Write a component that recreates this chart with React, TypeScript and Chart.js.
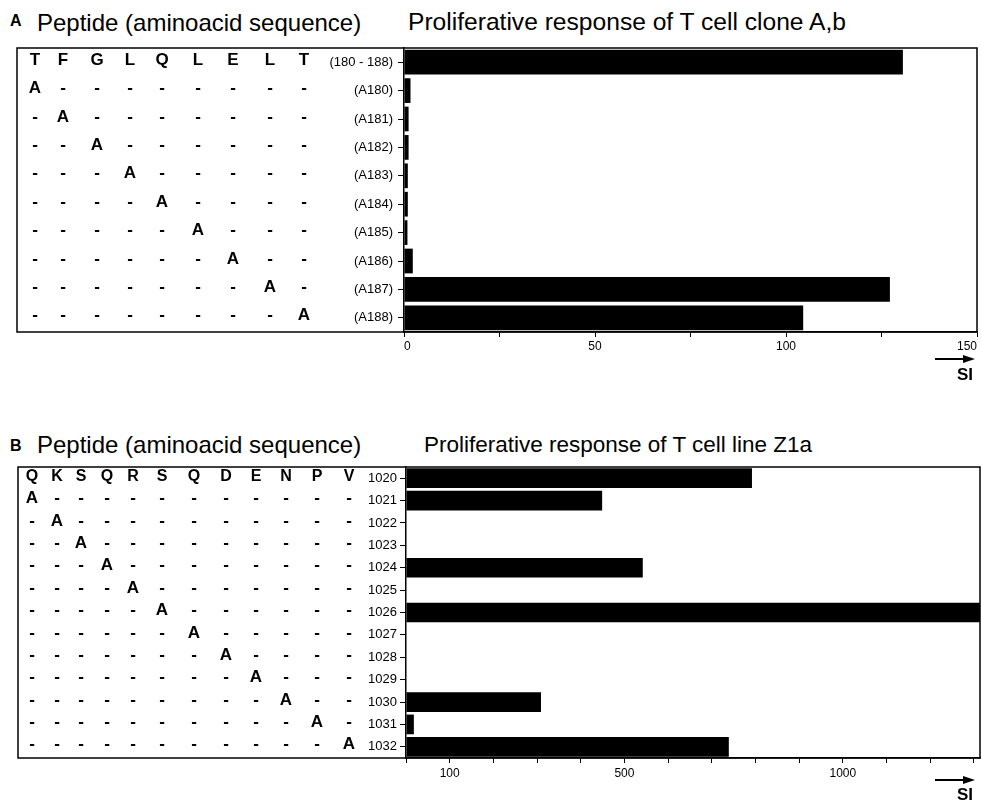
import React, { useEffect, useRef } from "react";
import { Chart, registerables } from "chart.js";

Chart.register(...registerables);

const FONT = '"Liberation Sans", Arial, Helvetica, sans-serif';

// ---------- Panel A data ----------
const seqA = ["T", "F", "G", "L", "Q", "L", "E", "L", "T"];
const codesA = ["(180 - 188)", "(A180)", "(A181)", "(A182)", "(A183)", "(A184)", "(A185)", "(A186)", "(A187)", "(A188)"];
const siA = [130.6, 1.7, 1.2, 1.2, 1.0, 1.0, 0.9, 2.3, 127.2, 104.5];
const tickLabelsA = [0, 50, 100, 150];

// ---------- Panel B data ----------
const seqB = ["Q", "K", "S", "Q", "R", "S", "Q", "D", "E", "N", "P", "V"];
const codesB = ["1020", "1021", "1022", "1023", "1024", "1025", "1026", "1027", "1028", "1029", "1030", "1031", "1032"];
const siB = [792, 449, 0, 0, 542, 0, 1320, 0, 0, 0, 309, 18, 739];
const tickLabelsB = [100, 500, 1000];

type PanelCfg = {
  top: number;
  height: number;
  plotTop: number;
  plotBottom: number;
  plotLeft: number;
  plotRight: number;
  boxLeft: number;
  codes: string[];
  values: number[];
  seq: string[];
  cols: number[];
  max: number;
  step: number;
  tickLabels: number[];
  barPct: number;
  headerFont: string;
  letterFont: string;
  yTickLen: number;
  yTickPad: number;
  xTickPad: number;
  xAlign: string;
};

const panelA: PanelCfg = {
  top: 40,
  height: 330,
  plotTop: 48,
  plotBottom: 332,
  plotLeft: 404,
  plotRight: 977,
  boxLeft: 17,
  codes: codesA,
  values: siA,
  seq: seqA,
  cols: [35, 63, 97, 130, 162, 198, 233, 270, 304],
  max: 150,
  step: 25,
  tickLabels: tickLabelsA,
  barPct: 0.87,
  headerFont: `bold 17px ${FONT}`,
  letterFont: `bold 17px ${FONT}`,
  yTickLen: 6,
  yTickPad: 5,
  xTickPad: 2,
  xAlign: "inner",
};

const panelB: PanelCfg = {
  top: 460,
  height: 340,
  plotTop: 467,
  plotBottom: 758,
  plotLeft: 406,
  plotRight: 980,
  boxLeft: 18,
  codes: codesB,
  values: siB,
  seq: seqB,
  cols: [32, 57, 81, 107, 133, 162, 194, 226, 256, 286, 317, 349],
  max: 1314,
  step: 100,
  tickLabels: tickLabelsB,
  barPct: 0.88,
  headerFont: `bold 16px ${FONT}`,
  letterFont: `bold 17px ${FONT}`,
  yTickLen: 6,
  yTickPad: 3,
  xTickPad: 3,
  xAlign: "center",
};

function Panel({ cfg }: { cfg: PanelCfg }) {
  const ref = useRef<HTMLCanvasElement | null>(null);
  useEffect(() => {
    if (!ref.current) return;
    const rows: string[][] = [cfg.seq.slice()];
    for (let i = 0; i < cfg.seq.length; i++) {
      rows.push(cfg.seq.map((_, j) => (j === i ? "A" : "-")));
    }
    const peptidePlugin = {
      id: "peptideTable",
      afterDraw(chart: any) {
        const { ctx, chartArea, scales } = chart;
        const y = scales.y;
        ctx.save();
        ctx.strokeStyle = "#000";
        ctx.lineWidth = 1.5;
        ctx.strokeRect(cfg.boxLeft, chartArea.top, chartArea.right - cfg.boxLeft, chartArea.bottom - chartArea.top);
        ctx.textAlign = "center";
        ctx.textBaseline = "middle";
        ctx.fillStyle = "#000";
        rows.forEach((row, i) => {
          const yy = y.getPixelForValue(i) - 2;
          row.forEach((ch, j) => {
            ctx.font = i === 0 ? cfg.headerFont : cfg.letterFont;
            ctx.fillText(ch, cfg.cols[j], yy);
          });
        });
        ctx.restore();
      },
    };
    const width = 982;
    const chart = new Chart(ref.current, {
      type: "bar",
      data: {
        labels: cfg.codes,
        datasets: [
          {
            data: cfg.values,
            backgroundColor: "#000",
            borderWidth: 0,
            barPercentage: cfg.barPct,
            categoryPercentage: 1,
          },
        ],
      },
      options: {
        indexAxis: "y",
        responsive: false,
        animation: false,
        events: [],
        layout: {
          padding: {
            top: cfg.plotTop - cfg.top,
            left: 0,
            right: width - cfg.plotRight,
            bottom: cfg.height - (cfg.plotBottom - cfg.top) - 30,
          },
        },
        plugins: {
          legend: { display: false },
          tooltip: { enabled: false },
          title: { display: false },
        },
        scales: {
          x: {
            type: "linear",
            min: 0,
            max: cfg.max,
            grid: {
              drawOnChartArea: false,
              drawTicks: true,
              tickLength: 5,
              color: "#000",
              lineWidth: 1,
            },
            border: { display: true, color: "#000", width: 1.5 },
            ticks: {
              stepSize: cfg.step,
              includeBounds: false,
              autoSkip: false,
              maxRotation: 0,
              align: cfg.xAlign,
              padding: cfg.xTickPad,
              color: "#000",
              font: { family: FONT, size: 12 },
              callback: (v: any) => (cfg.tickLabels.includes(Number(v)) ? String(v) : ""),
            },
            afterFit: (s: any) => {
              s.height = 30;
              s.paddingLeft = 0;
              s.paddingRight = 0;
            },
          },
          y: {
            type: "category",
            offset: true,
            grid: {
              offset: false,
              drawOnChartArea: false,
              drawTicks: true,
              tickLength: cfg.yTickLen,
              color: "#000",
              lineWidth: 1,
            },
            border: { display: true, color: "#000", width: 1.5 },
            ticks: {
              autoSkip: false,
              padding: cfg.yTickPad,
              color: "#000",
              font: { family: FONT, size: 13 },
            },
            afterFit: (s: any) => {
              s.width = cfg.plotLeft;
              s.paddingTop = 0;
              s.paddingBottom = 0;
            },
          },
        },
      },
      plugins: [peptidePlugin],
    } as any);
    return () => chart.destroy();
  }, [cfg]);
  return (
    <canvas
      ref={ref}
      width={982}
      height={cfg.height}
      style={{ position: "absolute", left: 0, top: cfg.top, width: 982, height: cfg.height }}
    />
  );
}

const txt = (left: number, baseline: number, size: number, bold: boolean, text: string) => (
  <div
    style={{
      position: "absolute",
      left,
      top: baseline - 0.8465 * size,
      fontFamily: FONT,
      fontSize: size,
      lineHeight: `${size}px`,
      fontWeight: bold ? "bold" : "normal",
      whiteSpace: "nowrap",
      color: "#000",
    }}
  >
    {text}
  </div>
);

function Arrow({ y }: { y: number }) {
  return (
    <svg
      width={50}
      height={14}
      style={{ position: "absolute", left: 930, top: y - 7 }}
    >
      <line x1={5} y1={7} x2={36} y2={7} stroke="#000" strokeWidth={2} />
      <polygon points="33,3 45,7 33,11" fill="#000" />
    </svg>
  );
}

export default function App() {
  return (
    <div style={{ position: "absolute", left: 0, top: 0, width: 982, height: 804, background: "#fff", overflow: "hidden" }}>
      {txt(10, 27, 16, true, "A")}
      {txt(37, 31, 24, false, "Peptide (aminoacid sequence)")}
      {txt(408, 31, 24.6, false, "Proliferative response of T cell clone A,b")}
      <Panel cfg={panelA} />
      <Arrow y={359} />
      {txt(957, 380, 17, true, "SI")}

      {txt(10, 452, 16, true, "B")}
      {txt(37, 453, 24, false, "Peptide (aminoacid sequence)")}
      {txt(424, 453, 22.5, false, "Proliferative response of T cell line Z1a")}
      <Panel cfg={panelB} />
      <Arrow y={780} />
      {txt(957, 800, 17, true, "SI")}
    </div>
  );
}
